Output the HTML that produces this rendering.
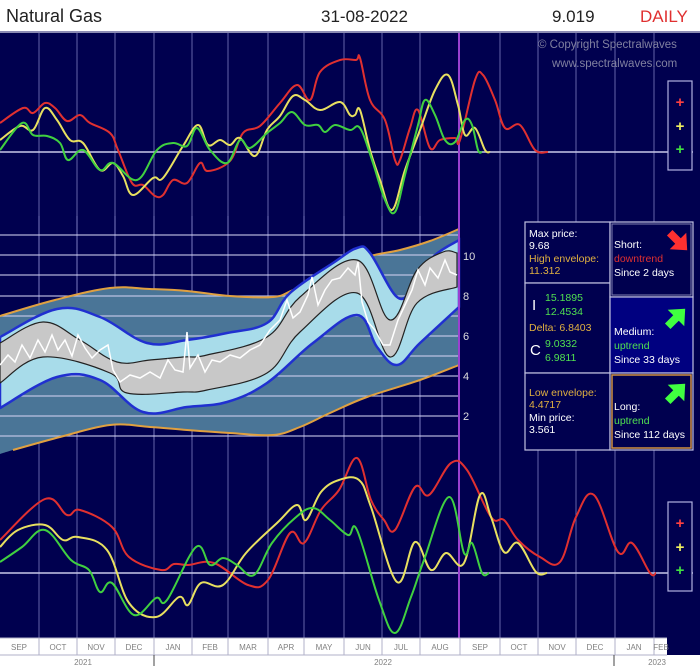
<!DOCTYPE html>
<html><head><meta charset="utf-8"><style>
html,body{margin:0;padding:0;background:#fff;}
body{width:700px;height:666px;overflow:hidden;font-family:"Liberation Sans",sans-serif;}
svg{display:block}
</style></head><body>
<svg id="sv" width="700" height="666" viewBox="0 0 700 666" xmlns="http://www.w3.org/2000/svg" font-family="Liberation Sans, sans-serif">
<rect x="0" y="0" width="700" height="666" fill="#fff"/>
<rect x="0" y="32" width="700" height="606" fill="#00004f"/>
<rect x="0" y="31" width="700" height="2" fill="#8c8cb4"/>
<text x="6" y="22" font-size="18" fill="#222">Natural Gas</text>
<text x="321" y="22" font-size="17" fill="#222">31-08-2022</text>
<text x="552" y="22" font-size="17" fill="#222">9.019</text>
<text x="640" y="22" font-size="17" fill="#e03030">DAILY</text>
<g stroke="#7c7cc0" stroke-width="1" opacity="0.8">
<line x1="39" y1="33" x2="39" y2="638"/><line x1="77" y1="33" x2="77" y2="638"/><line x1="115" y1="33" x2="115" y2="638"/><line x1="154" y1="33" x2="154" y2="638"/><line x1="192" y1="33" x2="192" y2="638"/><line x1="228" y1="33" x2="228" y2="638"/><line x1="268" y1="33" x2="268" y2="638"/><line x1="304" y1="33" x2="304" y2="638"/><line x1="344" y1="33" x2="344" y2="638"/><line x1="382" y1="33" x2="382" y2="638"/><line x1="420" y1="33" x2="420" y2="638"/><line x1="500" y1="33" x2="500" y2="638"/><line x1="538" y1="33" x2="538" y2="638"/><line x1="576" y1="33" x2="576" y2="638"/><line x1="615" y1="33" x2="615" y2="638"/><line x1="654" y1="33" x2="654" y2="638"/>
</g>
<rect x="0" y="216" width="459" height="224" fill="#00004f"/>
<g stroke="#7c7cc0" stroke-width="1">
<line x1="39" y1="216" x2="39" y2="440"/><line x1="77" y1="216" x2="77" y2="440"/><line x1="115" y1="216" x2="115" y2="440"/><line x1="154" y1="216" x2="154" y2="440"/><line x1="192" y1="216" x2="192" y2="440"/><line x1="228" y1="216" x2="228" y2="440"/><line x1="268" y1="216" x2="268" y2="440"/><line x1="304" y1="216" x2="304" y2="440"/><line x1="344" y1="216" x2="344" y2="440"/><line x1="382" y1="216" x2="382" y2="440"/><line x1="420" y1="216" x2="420" y2="440"/>
</g>
<path class="b" data-a="0,316 55,300 110,288 150,289 187,291 230,296 273,297 293,290 330,273 367,257 400,250 430,241 459,229" data-b="459,365 420,380 367,397 330,413 300,427 273,435 230,433 187,430 150,427 110,425 60,437 13,450 0,454" fill="#4a7597"/>
<g stroke="#d0d0f0" stroke-width="1.3" opacity="0.85">
<line x1="0" y1="235" x2="459" y2="235"/><line x1="0" y1="255" x2="459" y2="255"/><line x1="0" y1="275" x2="459" y2="275"/><line x1="0" y1="296" x2="459" y2="296"/><line x1="0" y1="316" x2="459" y2="316"/><line x1="0" y1="336" x2="459" y2="336"/><line x1="0" y1="356" x2="459" y2="356"/><line x1="0" y1="376" x2="459" y2="376"/><line x1="0" y1="396" x2="459" y2="396"/><line x1="0" y1="416" x2="459" y2="416"/><line x1="0" y1="436" x2="459" y2="436"/>
</g>
<path class="b" data-a="0,316 55,300 110,288 150,289 187,291 230,296 273,297 293,290 330,273 367,257 400,250 430,241 459,229" fill="none" stroke="#e0a040" stroke-width="2"/>
<path class="b" data-a="13,450 60,437 110,425 150,427 187,430 230,433 273,435 300,427 330,413 367,397 420,380 459,365" fill="none" stroke="#e0a040" stroke-width="2"/>
<path class="b" data-a="0,337 57,309 100,317 147,343 187,340 227,333 267,323 290,293 333,263 357,248 370,253 397,297 413,287 433,257 459,240" data-b="459,307 420,343 397,365 377,347 357,315 313,343 267,383 227,402 187,407 143,412 100,380 57,377 0,408" fill="#a8dcea" stroke="#2030d0" stroke-width="2.5"/>
<path class="b" data-a="0,343 43,322 80,340 117,362 150,360 183,357 207,355 267,337 300,297 357,260 390,320 417,270 443,252 457,253" data-b="457,287 417,303 390,357 357,293 300,332 267,373 207,390 183,392 127,393 110,373 43,357 0,383" fill="#c8c8c8" stroke="#222" stroke-width="1.2"/>
<polyline points="0,365 8,355 15,362 22,345 30,358 38,340 45,352 52,335 58,350 65,340 72,356 78,335 85,348 92,358 100,350 108,345 113,370 120,382 130,375 140,378 150,372 160,378 168,360 175,370 183,372 187,332 190,368 198,355 205,372 212,360 220,362 230,355 240,358 250,350 260,345 270,330 280,320 287,300 293,318 300,312 308,295 312,277 318,305 325,290 332,280 340,278 348,268 355,275 358,262 362,302 368,322 375,330 383,345 390,345 398,320 405,305 412,290 418,270 425,285 430,268 438,278 445,260 450,272 457,275" fill="none" stroke="#fff" stroke-width="1.5"/>
<g fill="#ddd" font-size="11"><text x="463" y="260">10</text><text x="463" y="300">8</text><text x="463" y="340">6</text><text x="463" y="380">4</text><text x="463" y="420">2</text></g>
<line x1="0" y1="152" x2="693" y2="152" stroke="#c8c8e8" stroke-width="1.5"/>
<line x1="0" y1="573" x2="693" y2="573" stroke="#c8c8e8" stroke-width="1.5"/>
<line x1="459" y1="33" x2="459" y2="638" stroke="#9a40d0" stroke-width="2"/>
<path class="b" fill="none" stroke="#e03030" stroke-width="2" data-a="0,123 23,108 33,113 45,103 55,108 67,121 80,115 90,123 110,133 118,150 132,183 143,185 155,196 163,195 173,180 187,183 200,163 208,171 230,161 243,133 260,126 280,103 297,85 310,100 320,72 340,60 356,60 360,58 370,100 385,120 395,160 400,160 410,128 418,110 430,148 440,140 455,138 460,140 475,80 483,75 495,100 505,128 520,125 535,150 548,152"/>
<path class="b" fill="none" stroke="#e8e060" stroke-width="2" data-a="0,140 20,126 33,130 45,108 57,120 70,140 83,143 100,170 113,163 123,176 133,195 153,178 163,178 183,146 198,125 208,145 220,140 230,145 240,138 255,156 267,130 280,116 293,96 305,100 320,110 340,102 350,115 355,115 360,110 370,150 380,180 392,210 405,170 420,130 435,90 448,75 458,105 465,135 475,128 485,150 490,152"/>
<path class="b" fill="none" stroke="#40d040" stroke-width="2" data-a="0,150 22,123 33,135 47,136 60,143 68,160 83,150 100,170 113,163 137,180 157,150 173,143 187,146 197,128 210,150 227,163 240,140 250,148 267,133 280,123 292,112 305,125 318,125 325,132 335,125 350,130 360,128 372,160 385,200 395,212 405,175 418,125 425,100 435,115 445,140 455,142 465,120 472,125 478,150 482,152"/>
<path class="b" fill="none" stroke="#e03030" stroke-width="2" data-a="0,540 45,499 67,515 80,510 112,527 129,557 161,570 174,564 188,565 214,563 248,585 268,580 290,533 304,543 321,510 339,490 357,458 371,500 384,520 395,530 415,487 429,495 451,463 467,470 491,517 504,520 518,540 540,557 560,562 576,517 594,495 618,552 632,543 650,573 656,573"/>
<path class="b" fill="none" stroke="#e8e060" stroke-width="2" data-a="0,547 18,530 45,525 63,540 78,537 107,550 129,603 156,617 179,597 188,605 201,583 223,585 246,553 277,523 297,505 306,520 321,492 339,480 359,480 371,507 397,582 415,542 431,570 446,553 464,563 480,495 491,517 504,552 518,543 536,572 547,573"/>
<path class="b" fill="none" stroke="#40d040" stroke-width="2" data-a="0,562 22,547 45,530 71,560 89,570 100,592 112,583 134,615 156,598 167,600 196,547 210,565 223,558 237,565 254,575 272,543 295,518 313,508 330,520 348,535 357,530 379,600 395,633 411,597 424,560 449,497 464,553 472,543 482,573 489,573"/>
<text x="538" y="48" font-size="11.5" fill="#8080a0">© Copyright Spectralwaves</text>
<text x="552" y="67" font-size="11.5" fill="#8080a0">www.spectralwaves.com</text>
<rect x="668" y="81" width="24" height="89" fill="#00004f" stroke="#b0b0e0" stroke-width="1.2"/>
<rect x="668" y="502" width="24" height="89" fill="#00004f" stroke="#b0b0e0" stroke-width="1.2"/>
<g font-size="15" font-weight="bold" text-anchor="middle">
<text x="680" y="107" fill="#ff4040">+</text>
<text x="680" y="131" fill="#f0f060">+</text>
<text x="680" y="154" fill="#40e040">+</text>
<text x="680" y="528" fill="#ff4040">+</text>
<text x="680" y="552" fill="#f0f060">+</text>
<text x="680" y="575" fill="#40e040">+</text>
</g>
<rect x="525" y="222" width="85" height="61" fill="#00004f" stroke="#c0c0e0" stroke-width="1.2"/>
<rect x="525" y="283" width="85" height="90" fill="#00004f" stroke="#c0c0e0" stroke-width="1.2"/>
<rect x="525" y="373" width="85" height="77" fill="#00004f" stroke="#c0c0e0" stroke-width="1.2"/>
<rect x="610" y="222" width="83" height="75" fill="#00004f" stroke="#c0c0e0" stroke-width="1.2"/>
<rect x="612" y="224" width="79" height="71" fill="none" stroke="#8080b0" stroke-width="1"/>
<rect x="610" y="297" width="83" height="76" fill="#000080" stroke="#c0c0e0" stroke-width="1.2"/>
<rect x="610" y="373" width="83" height="77" fill="#00004f" stroke="#c0c0e0" stroke-width="1.2"/>
<rect x="612" y="375" width="79" height="73" fill="none" stroke="#d09040" stroke-width="1.5"/>
<g font-size="10.5">
<text x="529" y="237" fill="#fff">Max price:</text>
<text x="529" y="249" fill="#fff">9.68</text>
<text x="529" y="262" fill="#e0b040">High envelope:</text>
<text x="529" y="274" fill="#e0b040">11.312</text>
<text x="532" y="310" fill="#fff" font-size="15">I</text>
<text x="545" y="301" fill="#50e050">15.1895</text>
<text x="545" y="315" fill="#50e050">12.4534</text>
<text x="529" y="331" fill="#e0b040">Delta: 6.8403</text>
<text x="530" y="355" fill="#fff" font-size="15">C</text>
<text x="545" y="347" fill="#50e050">9.0332</text>
<text x="545" y="361" fill="#50e050">6.9811</text>
<text x="529" y="396" fill="#e0b040">Low envelope:</text>
<text x="529" y="408" fill="#e0b040">4.4717</text>
<text x="529" y="421" fill="#fff">Min price:</text>
<text x="529" y="433" fill="#fff">3.561</text>
<text x="614" y="248" fill="#fff">Short:</text>
<text x="614" y="262" fill="#e03030">downtrend</text>
<text x="614" y="276" fill="#fff">Since 2 days</text>
<text x="614" y="335" fill="#fff">Medium:</text>
<text x="614" y="349" fill="#50e050">uptrend</text>
<text x="614" y="363" fill="#fff">Since 33 days</text>
<text x="614" y="410" fill="#fff">Long:</text>
<text x="614" y="424" fill="#50e050">uptrend</text>
<text x="614" y="438" fill="#fff">Since 112 days</text>
</g>
<g transform="translate(678,241) rotate(135) scale(1.3)"><polygon points="0,-10 9,0 3,0 3,9 -3,9 -3,0 -9,0" fill="#ff3030"/></g>
<g transform="translate(676,318) rotate(45) scale(1.3)"><polygon points="0,-10 9,0 3,0 3,9 -3,9 -3,0 -9,0" fill="#40ff40"/></g>
<g transform="translate(676,393) rotate(45) scale(1.3)"><polygon points="0,-10 9,0 3,0 3,9 -3,9 -3,0 -9,0" fill="#40ff40"/></g>
<rect x="0" y="638" width="667" height="17" fill="#fff"/>
<rect x="0" y="655" width="700" height="11" fill="#fff"/>
<rect x="667" y="638" width="33" height="17" fill="#00004f"/>
<g stroke="#b0b0c8" stroke-width="1">
<line x1="0" y1="638" x2="667" y2="638"/><line x1="0" y1="655" x2="667" y2="655"/>
<line x1="39" y1="638" x2="39" y2="655"/><line x1="77" y1="638" x2="77" y2="655"/><line x1="115" y1="638" x2="115" y2="655"/><line x1="154" y1="638" x2="154" y2="655"/><line x1="192" y1="638" x2="192" y2="655"/><line x1="228" y1="638" x2="228" y2="655"/><line x1="268" y1="638" x2="268" y2="655"/><line x1="304" y1="638" x2="304" y2="655"/><line x1="344" y1="638" x2="344" y2="655"/><line x1="382" y1="638" x2="382" y2="655"/><line x1="420" y1="638" x2="420" y2="655"/><line x1="460" y1="638" x2="460" y2="655"/><line x1="500" y1="638" x2="500" y2="655"/><line x1="538" y1="638" x2="538" y2="655"/><line x1="576" y1="638" x2="576" y2="655"/><line x1="615" y1="638" x2="615" y2="655"/><line x1="654" y1="638" x2="654" y2="655"/>
</g>
<line x1="154" y1="655" x2="154" y2="666" stroke="#444" stroke-width="1"/>
<line x1="614" y1="655" x2="614" y2="666" stroke="#444" stroke-width="1"/>
<g font-size="8" fill="#808080" text-anchor="middle">
<text x="19" y="650">SEP</text><text x="58" y="650">OCT</text><text x="96" y="650">NOV</text><text x="134" y="650">DEC</text><text x="173" y="650">JAN</text><text x="210" y="650">FEB</text><text x="248" y="650">MAR</text><text x="286" y="650">APR</text><text x="324" y="650">MAY</text><text x="363" y="650">JUN</text><text x="401" y="650">JUL</text><text x="440" y="650">AUG</text><text x="480" y="650">SEP</text><text x="519" y="650">OCT</text><text x="557" y="650">NOV</text><text x="595" y="650">DEC</text><text x="634" y="650">JAN</text><text x="661" y="650">FEB</text>
<text x="83" y="665">2021</text><text x="383" y="665">2022</text><text x="657" y="665">2023</text>
</g>
</svg>
<script>
(function(){
function parse(s){var n=s.trim().split(/[\s,]+/).map(Number),p=[];for(var k=0;k<n.length;k+=2)p.push([n[k],n[k+1]]);return p;}
function seg(p,start){
 var d=start?"M"+p[0][0]+","+p[0][1]:" L"+p[0][0]+","+p[0][1];
 for(var k=0;k<p.length-1;k++){
  var p0=p[k>0?k-1:k],p1=p[k],p2=p[k+1],p3=p[k+2<p.length?k+2:k+1],t=0.18;
  d+=" C"+(p1[0]+(p2[0]-p0[0])*t).toFixed(1)+","+(p1[1]+(p2[1]-p0[1])*t).toFixed(1)+" "+(p2[0]-(p3[0]-p1[0])*t).toFixed(1)+","+(p2[1]-(p3[1]-p1[1])*t).toFixed(1)+" "+p2[0]+","+p2[1];
 }
 return d;
}
var els=document.querySelectorAll(".b");
for(var i=0;i<els.length;i++){
 var e=els[i];var d=seg(parse(e.getAttribute("data-a")),true);
 var b=e.getAttribute("data-b");
 if(b){d+=seg(parse(b),false)+" Z";}
 e.setAttribute("d",d);
}
})();
</script>
</body></html>
